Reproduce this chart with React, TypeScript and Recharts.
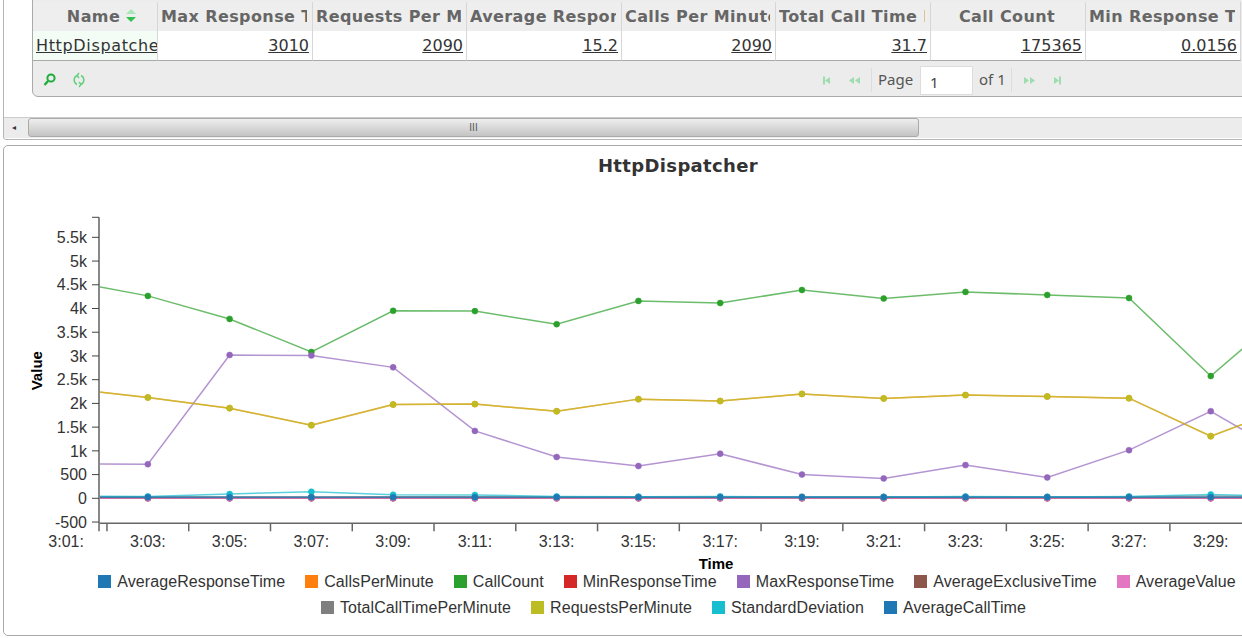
import { CSSProperties } from "react";
import { LineChart, Line, XAxis, YAxis, Legend, Label } from "recharts";

const minutes = [1, 3, 5, 7, 9, 11, 13, 15, 17, 19, 21, 23, 25, 27, 29, 31];
const minuteLabels = ["3:01:", "3:03:", "3:05:", "3:07:", "3:09:", "3:11:", "3:13:", "3:15:", "3:17:", "3:19:", "3:21:", "3:23:", "3:25:", "3:27:", "3:29:", "3:31:"];

const averageResponseTime = [20, 20, 20, 22, 20, 20, 20, 20, 20, 20, 20, 20, 20, 20, 22, 20];
const callsPerMinute = [2320, 2125, 1900, 1540, 1975, 1985, 1835, 2090, 2050, 2200, 2105, 2175, 2145, 2110, 1310, 1950];
const callCount = [4590, 4266, 3780, 3083, 3950, 3945, 3670, 4160, 4115, 4390, 4210, 4350, 4285, 4220, 2577, 4050];
const minResponseTime = [0.02, 0.02, 0.02, 0.02, 0.02, 0.02, 0.02, 0.02, 0.02, 0.02, 0.02, 0.02, 0.02, 0.02, 0.02, 0.02];
const maxResponseTime = [725, 720, 3020, 3010, 2760, 1420, 870, 680, 940, 500, 420, 700, 440, 1015, 1835, 830];
const averageExclusiveTime = [2, 2, 2, 3, 2, 2, 2, 2, 2, 2, 2, 2, 2, 2, 3, 2];
const averageValue = [0, 0, 0, 1, 0, 0, 0, 0, 0, 0, 0, 0, 0, 0, 1, 0];
const totalCallTimePerMinute = [32, 32, 30, 28, 31, 31, 30, 32, 32, 33, 32, 32, 32, 32, 50, 32];
const requestsPerMinute = [2320, 2125, 1900, 1540, 1975, 1985, 1835, 2090, 2050, 2200, 2105, 2175, 2145, 2110, 1310, 1950];
const standardDeviation = [45, 40, 90, 140, 75, 70, 40, 35, 40, 30, 30, 40, 30, 40, 80, 40];
const averageCallTime = [20, 20, 20, 22, 20, 20, 20, 20, 20, 20, 20, 20, 20, 20, 22, 20];

const series = [
  { name: "AverageResponseTime", values: averageResponseTime, color: "#1f77b4" },
  { name: "CallsPerMinute", values: callsPerMinute, color: "#ff7f0e" },
  { name: "CallCount", values: callCount, color: "#2ca02c" },
  { name: "MinResponseTime", values: minResponseTime, color: "#d62728" },
  { name: "MaxResponseTime", values: maxResponseTime, color: "#9467bd" },
  { name: "AverageExclusiveTime", values: averageExclusiveTime, color: "#8c564b" },
  { name: "AverageValue", values: averageValue, color: "#e377c2" },
  { name: "TotalCallTimePerMinute", values: totalCallTimePerMinute, color: "#7f7f7f" },
  { name: "RequestsPerMinute", values: requestsPerMinute, color: "#bcbd22" },
  { name: "StandardDeviation", values: standardDeviation, color: "#17becf" },
  { name: "AverageCallTime", values: averageCallTime, color: "#1f77b4" },
];

const chartData = minutes.map((minute, i) => {
  const row: Record<string, number> = { minute };
  series.forEach((s) => (row[s.name] = s.values[i]));
  return row;
});

const X_DOMAIN = [1.805, 31.99];
const xTicks = [1.805, 2, 4, 6, 8, 10, 12, 14, 16, 18, 20, 22, 24, 26, 28, 30];
const Y_DOMAIN = [-527, 5922];
const yTicks = [-500, 0, 500, 1000, 1500, 2000, 2500, 3000, 3500, 4000, 4500, 5000, 5500, 5922];

const gridColumns = [
  { title: "Name", value: "HttpDispatcher", width: 125 },
  { title: "Max Response Time", value: "3010", width: 155 },
  { title: "Requests Per Minute", value: "2090", width: 154 },
  { title: "Average Response Time", value: "15.2", width: 155 },
  { title: "Calls Per Minute", value: "2090", width: 154 },
  { title: "Total Call Time Per Minute", value: "31.7", width: 155 },
  { title: "Call Count", value: "175365", width: 155 },
  { title: "Min Response Time", value: "0.0156", width: 155 },
];

const FONT = "'Liberation Sans', Arial, sans-serif";
const GRID_FONT = "'DejaVu Sans', Verdana, sans-serif";
const PAGER_FONT = "'Noto Sans', sans-serif";
const abs = (left: number, top: number, width?: number, height?: number): CSSProperties => ({
  position: "absolute",
  left,
  top,
  width,
  height,
});

// band-style axis: the tick sits on the band edge, its label in the middle of the band
function TimeTick({ x, y, payload }: any) {
  const idx = minutes.indexOf(payload.value - 1);
  if (idx < 0) return null;
  return (
    <text x={x - 40.88} y={y + 14} textAnchor="middle" fontSize={16} fontFamily={FONT} fill="#333">
      {minuteLabels[idx]}
    </text>
  );
}

function formatValue(v: number) {
  if (v === 5922) return "";
  return Math.abs(v) >= 1000 ? `${v / 1000}k` : `${v}`;
}

function ChartLegend({ payload }: any) {
  return (
    <div style={{ display: "flex", flexWrap: "wrap", justifyContent: "center", fontFamily: FONT, fontSize: 16, letterSpacing: 0.08, color: "#333", rowGap: 7, marginTop: -1 }}>
      {payload.map((item: any, i: number) => (
        <div key={item.value} style={{ display: "flex", alignItems: "center", margin: i === 7 ? "0 10px 0 23px" : "0 10px", height: 19 }}>
          <span style={{ width: 13, height: 13, background: item.color, marginRight: 6 }} />
          {item.value}
        </div>
      ))}
    </div>
  );
}

function PagerArrow({ dir, stop }: { dir: number; stop?: boolean }) {
  return (
    <svg width="14" height="9" viewBox="-7 -4.5 14 9" style={{ marginRight: 10 }}>
      <g fill="#9fdcae" transform={`scale(${dir} 1)`}>
        <path d="M0 -3.5 L-5 0 L0 3.5Z" />
        {stop ? <rect x="-7" y="-4" width="2" height="8" /> : <path d="M6 -3.5 L1 0 L6 3.5Z" />}
      </g>
    </svg>
  );
}

function DataGrid() {
  let left = 33;
  return (
    <div style={{ ...abs(0, 0, 1242, 145), overflow: "hidden" }}>
      <div style={{ ...abs(3, -10, 1260, 148), border: "1px solid #b5b5b5", borderRadius: 3 }} />
      <div style={{ ...abs(32, -10, 1240, 105), border: "1px solid #aaa", borderRadius: 6, background: "#ececec" }} />
      {gridColumns.map((c, i) => {
        const x = left;
        left += c.width;
        return (
          <div key={c.title}>
            <div style={{ ...abs(x, 2, c.width - 1, 29), background: "#eee", borderRight: "1px solid #d6d6d6", fontFamily: GRID_FONT, fontWeight: 700, fontSize: 16, letterSpacing: 0.4, color: "#666", lineHeight: "29px", whiteSpace: "nowrap" }}>
              <span style={{ ...abs(i === 0 ? 19 : 3, 0, i === 0 ? 100 : c.width - 9, 29), overflow: "hidden", textAlign: i === 0 || i === 6 ? "center" : "left" }}>
                {c.title}
                {i === 0 ? (
                  <svg width="12" height="16" viewBox="0 0 12 16" style={{ marginLeft: 5, verticalAlign: -2 }}>
                    <path d="M1 6 L6 1 L11 6Z" fill="#a9e6b8" />
                    <path d="M1 9 L6 14 L11 9Z" fill="#2fc24f" />
                  </svg>
                ) : null}
              </span>
            </div>
            <div style={{ ...abs(x, 31, c.width - 1, 29), background: i === 0 ? "#f3fdf6" : "#fff", borderRight: "1px solid #d6d6d6", borderBottom: "1px solid #aaa", fontFamily: GRID_FONT, fontSize: 16, letterSpacing: i === 0 ? 0.65 : 0, color: "#333", lineHeight: "29px", textAlign: i === 0 ? "left" : "right", whiteSpace: "nowrap", overflow: "hidden" }}>
              <span style={{ textDecoration: "underline", margin: i === 0 ? "0 0 0 3px" : "0 3px 0 0" }}>{c.value}</span>
            </div>
          </div>
        );
      })}
      <svg style={abs(41, 72, 44, 16)} width="44" height="16">
        <circle cx="10" cy="6" r="3.6" fill="none" stroke="#1fae3a" strokeWidth="2" />
        <path d="M7 9 L3.5 13" stroke="#1fae3a" strokeWidth="2.4" />
        <path d="M36 3.5 A5 5 0 0 0 36 12.5 M40 3.5 A5 5 0 0 1 40 12.5 M38 1 L36 3.5 L38 6 M38 10 L40 12.5 L38 15" fill="none" stroke="#5fd07a" strokeWidth="1.4" />
      </svg>
      <div style={{ ...abs(823, 75, 50, 11), display: "flex", alignItems: "center" }}>
        <PagerArrow dir={1} stop />
        <PagerArrow dir={1} />
      </div>
      <div style={{ ...abs(871, 68, 1, 24), background: "#ddd" }} />
      <div style={{ ...abs(878, 69, 40, 20), fontFamily: PAGER_FONT, fontSize: 15, color: "#555" }}>Page</div>
      <div style={{ ...abs(920, 66, 53, 29), background: "#fff", border: "1px solid #ddd", boxSizing: "border-box", fontFamily: PAGER_FONT, fontSize: 15, color: "#444", lineHeight: "30px", paddingLeft: 9 }}>1</div>
      <div style={{ ...abs(979, 69, 40, 20), fontFamily: PAGER_FONT, fontSize: 15, color: "#555" }}>of 1</div>
      <div style={{ ...abs(1011, 68, 1, 24), background: "#ddd" }} />
      <div style={{ ...abs(1023, 75, 50, 11), display: "flex", alignItems: "center" }}>
        <PagerArrow dir={-1} />
        <PagerArrow dir={-1} stop />
      </div>
      <div style={{ ...abs(4, 117, 1240, 20), background: "#ececec", borderTop: "1px solid #ccc" }} />
      <div style={{ ...abs(12, 124, 6, 7), fontSize: 8, lineHeight: "7px", color: "#333" }}>◂</div>
      <div style={{ ...abs(28, 118, 891, 19), boxSizing: "border-box", border: "1px solid #aaa", borderRadius: 3, background: "linear-gradient(#eee, #c4c4c4)", textAlign: "center", fontFamily: FONT, fontSize: 10, lineHeight: "17px", color: "#555" }}>III</div>
    </div>
  );
}

export default function App() {
  return (
    <div style={{ ...abs(0, 0, 1242, 638), overflow: "hidden", background: "#fff" }}>
      <DataGrid />
      <div style={{ ...abs(3, 145, 1260, 491), boxSizing: "border-box", border: "1px solid #aaa", borderRadius: 5 }} />
      <div style={{ ...abs(3, 155, 1350, 24), textAlign: "center", fontFamily: GRID_FONT, fontWeight: 700, fontSize: 18, letterSpacing: 0.35, color: "#333" }}>HttpDispatcher</div>
      <div style={abs(0, 145)}>
        <LineChart
          width={1350}
          height={491}
          data={chartData}
          margin={{ top: 72.3, right: 17, bottom: 0, left: 0 }}
        >
          <XAxis
            dataKey="minute"
            type="number"
            domain={X_DOMAIN}
            ticks={xTicks}
            interval={0}
            allowDataOverflow
            height={50}
            stroke="#666"
            strokeWidth={1.5}
            tickSize={8}
            tick={<TimeTick />}
          >
            <Label value="Time" position="insideBottom" offset={4} fontFamily={FONT} fontSize={15} fontWeight={700} fill="#000" />
          </XAxis>
          <YAxis
            type="number"
            domain={Y_DOMAIN}
            ticks={yTicks}
            interval={0}
            allowDataOverflow
            width={99}
            stroke="#888"
            strokeWidth={2}
            tickSize={7}
            tickMargin={5}
            tickLine={{ stroke: "#444", strokeWidth: 1 }}
            tickFormatter={formatValue}
            tick={{ fontFamily: FONT, fontSize: 16, fill: "#333" }}
          >
            <Label value="Value" angle={-90} position="insideLeft" offset={37} dy={20} fontFamily={FONT} fontSize={15} fontWeight={700} fill="#000" />
          </YAxis>
          <Legend
            verticalAlign="bottom"
            height={62.7}
            itemSorter={null}
            wrapperStyle={{ left: 60, width: 1214 }}
            content={<ChartLegend />}
          />
          {series.map((s) => (
            <Line
              key={s.name}
              dataKey={s.name}
              name={s.name}
              stroke={s.color}
              strokeWidth={1.5}
              strokeOpacity={0.7}
              dot={{ r: 3, fill: s.color, stroke: s.color, strokeOpacity: 0.5, strokeWidth: 1 }}
              activeDot={false}
              isAnimationActive={false}
            />
          ))}
        </LineChart>
      </div>
    </div>
  );
}
